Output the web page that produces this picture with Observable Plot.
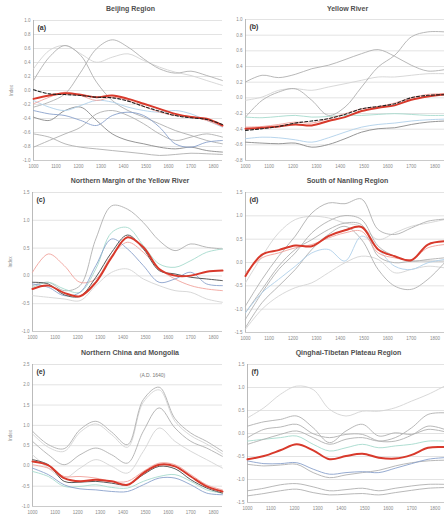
<!DOCTYPE html>
<html><head><meta charset="utf-8">
<script src="https://cdn.jsdelivr.net/npm/d3@7"></script>
<script src="https://cdn.jsdelivr.net/npm/@observablehq/plot@0.6"></script>
<style>
body{margin:0;background:#fff;font-family:"Liberation Sans",Arial,sans-serif;}
#wrap{position:relative;width:444px;height:516px;overflow:hidden;background:#fff}
.panel{position:absolute;width:222px;height:172px}
.panel svg{position:absolute;left:0;top:0}
.title{position:absolute;top:5px;font-size:7px;line-height:8px;color:#505050;font-weight:bold;white-space:nowrap;transform:translateX(-50%)}
</style></head><body><div id="wrap"></div><script>
// ---------- shared axes ----------
const years = [1000,1070,1140,1210,1280,1350,1420,1490,1560,1630,1700,1770,1840];
const xTicks = [1000,1100,1200,1300,1400,1500,1600,1700,1800];
const titles = ["Beijing Region","Yellow River","Northern Margin of the Yellow River","South of Nanling Region","Northern China and Mongolia","Qinghai-Tibetan Plateau Region"];
const letters = ["(a)","(b)","(c)","(d)","(e)","(f)"];
const yAxisLabel = "Index";
const annotationE = "(A.D. 1640)";
const yLabelsA = ["-1.0","-0.8","-0.6","-0.4","-0.2","0.0","0.2","0.4","0.6","0.8","1.0"];
const yLabelsB = ["-0.8","-0.6","-0.4","-0.2","0.0","0.2","0.4","0.6","0.8","1.0"];
const yLabelsC = ["-1.0","-0.5","0.0","0.5","1.0","1.5"];
const yLabelsD = ["-1.5","-1.0","-0.5","0.0","0.5","1.0","1.5"];
const yLabelsE = ["-1.0","-0.5","0.0","0.5","1.0","1.5","2.0","2.5"];
const yLabelsF = ["-1.5","-1.0","-0.5","0.0","0.5","1.0","1.5"];

// ---------- panel (a) ----------
const a_red   = [4.40,4.64,4.81,4.69,4.52,4.64,4.40,4.05,3.69,3.33,3.10,2.98,2.50];
const a_mean  = [5.05,4.76,4.71,4.64,4.52,4.48,4.24,3.86,3.52,3.21,3.05,2.93,2.57];
const a_pink  = [4.05,4.52,4.88,4.64,4.29,4.52,4.29,3.86,3.45,3.21,3.14,2.86,2.43];
const a_g1    = [5.71,7.38,8.21,7.50,5.60,4.29,3.57,3.10,2.62,2.14,1.79,1.43,1.19];
const a_g2    = [3.81,4.17,4.76,6.31,7.98,8.62,8.10,7.26,6.55,6.24,6.38,6.07,5.71];
const a_g3    = [6.55,7.86,8.21,7.62,7.02,7.38,7.62,7.14,6.67,6.31,6.07,5.71,5.36];
const a_g4    = [3.10,2.86,3.57,3.81,2.86,1.90,1.43,1.19,0.95,0.83,0.95,0.71,0.60];
const a_g5    = [0.95,1.43,1.90,2.38,3.33,3.57,3.21,2.62,1.90,1.43,1.67,1.90,1.67];
const a_blue  = [3.57,3.33,3.21,2.86,2.50,3.21,3.45,3.21,2.38,1.19,0.95,1.31,1.43];
const a_lblue = [4.29,3.81,3.57,3.93,4.29,4.17,3.81,3.57,3.45,3.57,3.33,2.86,2.38];
const a_g6    = [1.90,1.67,1.19,0.95,0.83,0.71,0.60,0.48,0.36,0.43,0.52,0.48,0.43];

// ---------- panel (b) ----------
const b_red   = [2.03,2.09,2.17,2.30,2.24,2.52,2.77,3.16,3.37,3.52,3.88,4.09,4.22];
const b_mean  = [1.92,2.03,2.17,2.39,2.52,2.67,2.94,3.30,3.45,3.62,4.01,4.16,4.20];
const b_pink  = [2.13,2.17,2.30,2.45,2.39,2.67,2.99,3.30,3.45,3.67,4.01,4.22,4.26];
const b_g1    = [5.01,5.44,5.29,5.50,5.86,6.08,6.44,6.82,7.08,6.65,6.08,5.71,5.80];
const b_g2    = [2.77,3.84,4.37,4.58,3.84,2.88,3.41,4.69,5.97,6.72,7.89,8.21,8.21];
const b_g3    = [1.17,1.11,1.07,1.11,0.85,1.02,1.39,1.81,2.03,2.09,2.30,2.45,2.52];
const b_lblue = [1.39,1.49,1.45,1.32,1.17,1.45,1.81,2.13,2.30,2.39,2.52,2.60,2.64];
const b_teal  = [2.77,2.73,2.81,2.88,2.77,2.81,2.88,2.88,2.94,2.99,2.94,2.88,2.88];
const b_g4    = [3.84,4.05,4.48,4.58,4.48,4.69,4.90,5.12,5.33,5.33,5.44,5.54,5.54];

// ---------- panel (c) ----------
const c_red   = [1.53,1.65,1.39,1.27,1.77,2.67,3.39,3.03,2.25,2.01,2.01,2.15,2.19];
const c_dark  = [1.77,1.71,1.32,1.27,1.95,2.85,3.47,2.97,2.19,2.07,1.95,1.89,1.83];
const c_g1    = [1.65,1.77,1.47,1.65,3.33,4.52,4.40,3.92,3.27,2.91,3.15,3.03,2.97];
const c_pink  = [2.13,2.79,2.37,1.77,1.89,2.73,3.21,2.85,2.25,1.89,1.65,1.53,1.47];
const c_teal  = [1.59,1.77,1.53,1.41,2.25,3.56,3.74,3.09,2.43,2.31,2.55,2.85,2.97];
const c_blue  = [1.71,1.59,1.29,1.41,2.37,3.33,2.97,2.37,1.77,1.89,2.13,1.71,1.65];
const c_g2    = [1.29,1.23,1.17,1.11,1.65,2.13,2.25,1.89,1.65,1.47,1.41,1.17,1.05];

// ---------- panel (d) ----------
const d_red   = [2.42,3.34,3.53,3.73,3.70,4.13,4.38,4.52,3.56,3.27,3.10,3.77,3.91];
const d_g1    = [1.14,2.28,3.27,4.13,5.12,5.55,5.52,5.72,4.41,4.20,4.48,4.77,4.86];
const d_g2    = [0.57,1.71,2.70,3.41,4.27,4.77,5.01,4.84,3.70,3.27,3.06,3.13,3.20];
const d_g3    = [0.21,1.28,1.99,2.70,3.56,4.20,4.55,3.98,2.70,1.99,1.85,2.28,2.99];
const d_lblue = [0.85,1.71,2.28,2.84,3.41,3.56,3.06,4.13,3.56,2.84,2.70,2.99,3.13];
const d_g4    = [0.14,1.00,1.56,1.92,2.13,2.56,2.99,3.27,3.13,2.56,2.70,2.84,2.77];
const d_g5    = [2.13,3.27,4.27,4.84,4.98,4.91,4.69,4.55,3.98,4.27,4.55,4.69,4.84];
const d_pink  = [2.56,3.20,3.41,3.63,3.77,4.05,4.27,4.34,3.41,3.20,3.13,3.63,3.77];
const d_g6    = [0.85,1.85,2.84,3.56,3.98,4.41,4.69,4.62,3.27,2.99,3.06,3.06,3.06];

// ---------- panel (e) ----------
const e_g1    = [3.71,3.05,2.85,3.79,4.20,3.67,3.05,5.27,5.88,4.33,3.62,3.21,2.72];
const e_g1b   = [3.58,2.92,2.72,3.66,4.07,3.54,2.92,5.14,5.75,4.20,3.49,3.08,2.59];
const e_g2    = [3.21,2.55,2.06,2.55,2.88,2.55,2.14,3.71,4.86,3.87,3.21,2.88,2.47];
const e_g3    = [2.55,1.89,1.40,1.89,2.31,1.98,1.65,2.72,3.87,3.21,2.72,2.31,1.89];
const e_red   = [2.22,2.03,1.40,1.24,1.32,1.24,1.07,1.65,2.06,1.98,1.48,0.99,0.74];
const e_dark  = [2.31,2.06,1.24,1.20,1.24,1.15,1.07,1.57,1.98,1.86,1.32,0.91,0.66];
const e_pink  = [2.06,1.89,1.48,1.48,1.40,1.24,1.24,1.73,2.14,2.06,1.57,1.07,0.82];
const e_blue  = [1.89,1.57,1.07,0.87,0.82,0.74,0.74,1.07,1.40,1.40,1.07,0.66,0.58];
const e_teal  = [1.73,1.48,0.99,0.99,1.07,0.94,0.91,1.24,1.48,1.57,1.24,0.82,0.66];

// ---------- panel (f) ----------
const f_red   = [1.88,2.02,2.27,2.53,2.27,1.88,2.02,2.12,1.95,1.91,2.07,2.38,2.41];
const f_g1    = [3.68,4.12,4.70,5.06,4.91,4.05,3.76,3.97,3.97,4.12,4.41,4.70,5.06];
const f_g2    = [3.32,3.51,3.61,3.76,3.25,2.60,3.11,3.40,2.89,3.03,2.96,3.18,3.08];
const f_g3    = [2.82,3.18,3.28,3.40,2.99,2.82,2.96,2.96,2.67,2.67,2.93,3.32,3.18];
const f_g4    = [2.53,2.75,2.96,3.11,2.82,2.53,2.75,2.82,2.67,2.82,3.25,3.83,3.90];
const f_teal  = [2.67,2.75,2.82,2.89,2.53,2.24,2.38,2.53,2.38,2.46,2.53,2.67,2.67];
const f_blue  = [1.81,1.69,1.69,1.73,1.45,1.23,1.30,1.34,1.30,1.49,1.69,1.88,1.95];
const f_g5    = [1.66,1.59,1.63,1.66,1.30,1.08,1.20,1.30,1.40,1.59,1.73,1.81,1.84];
const f_g6    = [0.51,0.62,0.77,0.82,0.68,0.51,0.56,0.62,0.51,0.62,0.72,0.79,0.79];
const f_g7    = [0.29,0.39,0.51,0.58,0.43,0.33,0.36,0.39,0.33,0.43,0.53,0.62,0.65];

// ---------- styles ----------
const styles = {
  red:   {stroke:"#d8392b", strokeWidth:2},
  mean:  {stroke:"#222", strokeWidth:1.1, strokeDasharray:"3,2"},
  dark:  {stroke:"#5a5a5a", strokeWidth:1},
  pink:  {stroke:"#f0a39c", strokeWidth:0.9},
  g:     {stroke:"#b0b0b0", strokeWidth:0.9},
  lg:    {stroke:"#d4d4d4", strokeWidth:0.9},
  dg:    {stroke:"#8a8a8a", strokeWidth:0.9},
  blue:  {stroke:"#8aa2cc", strokeWidth:0.9},
  lblue: {stroke:"#b0d0ea", strokeWidth:0.9},
  teal:  {stroke:"#a6dacd", strokeWidth:0.9}
};

const panels = [
  {left:0, top:0, mL:33, mT:20, mB:12, n:10, yl:yLabelsA, ylab:true,
   series:[[a_g3,"lg"],[a_g6,"g"],[a_g5,"g"],[a_g4,"dg"],[a_g1,"g"],[a_g2,"g"],[a_lblue,"lblue"],[a_blue,"blue"],[a_pink,"pink"],[a_red,"red"],[a_mean,"mean"]]},
  {left:222, top:0, mL:23, mT:19, mB:12, n:9, yl:yLabelsB, ylab:false,
   series:[[b_g4,"lg"],[b_teal,"teal"],[b_lblue,"lblue"],[b_g3,"dg"],[b_g1,"g"],[b_g2,"g"],[b_pink,"pink"],[b_red,"red"],[b_mean,"mean"]]},
  {left:0, top:172, mL:32, mT:20, mB:13, n:5, yl:yLabelsC, ylab:true,
   series:[[c_g2,"lg"],[c_g1,"g"],[c_pink,"pink"],[c_teal,"teal"],[c_blue,"blue"],[c_dark,"dark"],[c_red,"red"]]},
  {left:222, top:172, mL:23, mT:20, mB:12, n:6, yl:yLabelsD, ylab:false,
   series:[[d_g5,"lg"],[d_g4,"lg"],[d_g6,"g"],[d_g3,"g"],[d_g2,"g"],[d_g1,"g"],[d_lblue,"lblue"],[d_pink,"pink"],[d_red,"red"]]},
  {left:0, top:344, mL:32, mT:20, mB:10, n:7, yl:yLabelsE, ylab:true,
   series:[[e_g3,"lg"],[e_g2,"g"],[e_g1b,"lg"],[e_g1,"g"],[e_teal,"teal"],[e_blue,"blue"],[e_pink,"pink"],[e_dark,"dark"],[e_red,"red"]]},
  {left:222, top:344, mL:25, mT:20, mB:14, n:6, yl:yLabelsF, ylab:false,
   series:[[f_g1,"lg"],[f_g7,"g"],[f_g6,"g"],[f_g5,"g"],[f_blue,"blue"],[f_teal,"teal"],[f_g3,"g"],[f_g4,"g"],[f_g2,"g"],[f_red,"red"]]}
];

const wrap = document.getElementById("wrap");
panels.forEach((p, idx) => {
  const div = document.createElement("div");
  div.className = "panel";
  div.style.left = p.left + "px";
  div.style.top = p.top + "px";
  const yt = d3.range(p.n + 1);
  const marks = [
    Plot.gridY(yt, {stroke:"#dcdcdc", strokeOpacity:1, strokeWidth:0.8}),
    Plot.axisY(yt, {tickSize:0, tickPadding:3, fontSize:4.5, fill:"#8a8a8a",
      tickFormat: d => p.yl[d], label: p.ylab ? yAxisLabel : null,
      labelAnchor:"center", labelOffset:24, labelArrow:"none"}),
    Plot.axisX(xTicks, {tickSize:0, tickPadding:4, fontSize:4.5, fill:"#8a8a8a", label:null, tickFormat:"d"}),
    Plot.ruleX([years[0]], {stroke:"#aaa", strokeWidth:0.8}),
    Plot.ruleY([0], {stroke:"#c4c4c4", strokeWidth:0.8})
  ];
  p.series.forEach(([vals, sty]) => {
    marks.push(Plot.line(vals.map((v, i) => ({year: years[i], v})),
      {x:"year", y:"v", curve:"catmull-rom", ...styles[sty]}));
  });
  marks.push(Plot.text([letters[idx]], {frameAnchor:"top-left", dx:4, dy:5, fontSize:7, fontWeight:"bold", fill:"#333"}));
  if (idx === 4) {
    marks.push(Plot.text([annotationE], {frameAnchor:"top", dx:25, dy:9, fontSize:5, fill:"#777"}));
  }
  const svg = Plot.plot({
    width:222, height:172,
    marginLeft:p.mL, marginRight:0, marginTop:p.mT, marginBottom:p.mB,
    x:{domain:[1000,1840]}, y:{domain:[0, p.n]},
    style:{fontFamily:"Liberation Sans, Arial, sans-serif", background:"transparent", overflow:"visible"},
    marks
  });
  div.appendChild(svg);
  const t = document.createElement("div");
  t.className = "title";
  t.textContent = titles[idx];
  t.style.left = ((p.mL + 222) / 2 + 3) + "px";
  div.appendChild(t);
  wrap.appendChild(div);
});
</script></body></html>
